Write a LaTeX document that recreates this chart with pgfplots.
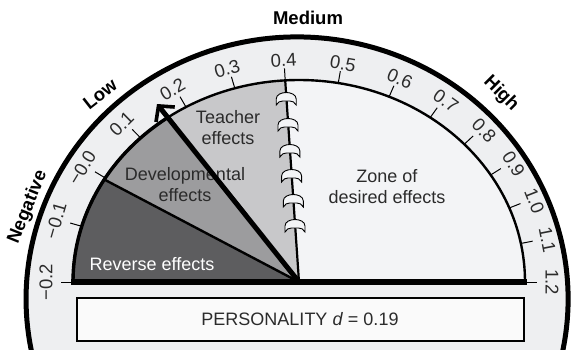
\documentclass[border=0pt]{standalone}
\usepackage{fontspec}
\setmainfont{Liberation Sans}
\usepackage{pgfplots}
\pgfplotsset{compat=1.18}
\usetikzlibrary{arrows.meta}

\definecolor{band}{HTML}{EEEFF1}
\definecolor{zone}{HTML}{F3F4F6}
\definecolor{teacher}{HTML}{C8C8CA}
\definecolor{develop}{HTML}{9C9C9E}
\definecolor{reverse}{HTML}{5D5D5F}
\definecolor{txt}{HTML}{2B2B2B}

\newcommand\ticklab{\fontsize{18.5}{20}\selectfont}
\newcommand\zonelab{\fontsize{18}{21}\selectfont}
\newcommand\biglab{\fontsize{18.5}{20}\selectfont\bfseries}

\begin{document}
\begin{tikzpicture}
\begin{axis}[name=ax, x=1pt, y=1pt,
    xmin=0, xmax=573, ymin=0, ymax=349,
    hide axis, clip=true]

% outer band of the dial
\filldraw[fill=band, draw=black, line width=5pt]
  (551.7,-39.6) arc[start angle=-20, end angle=200, x radius=271pt, y radius=262pt] -- cycle;

% zones (centre 299,67; inner radii 226 x 202)
\fill[reverse] (299,67) -- (73,67) arc[start angle=180, end angle=149.5, x radius=226pt, y radius=202pt] -- cycle;
\fill[develop] (299,67) -- (104.3,169.5) arc[start angle=149.5, end angle=125, x radius=226pt, y radius=202pt] -- cycle;
\fill[teacher] (299,67) -- (169.4,232.5) arc[start angle=125, end angle=93.5, x radius=226pt, y radius=202pt] -- cycle;
\fill[zone] (299,67) -- (285.2,268.6) arc[start angle=93.5, end angle=0, x radius=226pt, y radius=202pt] -- cycle;

% inner arc
\draw[line width=2.4pt] (73,67) arc[start angle=180, end angle=0, x radius=226pt, y radius=202pt];
\draw[line width=3.4pt] (73,67) arc[start angle=180, end angle=125, x radius=226pt, y radius=202pt];

% scale ticks and labels
\foreach \t/\l in {180/−0.2, 164/−0.1, 149/−0.0, 134.5/0.1, 120/0.2, 106.5/0.3,
    93.5/0.4, 80/0.5, 66.5/0.6, 54.5/0.7, 43/0.8, 32/0.9, 21.5/1.0, 11/1.1, 0/1.2}{%
  \edef\tmp{\noexpand\draw[line width=1pt]
      ({299+226*cos(\t)},{67+202*sin(\t)}) -- ({299+238*cos(\t)},{67+214*sin(\t)});
    \noexpand\node[rotate=\t-90, text=txt, font=\noexpand\ticklab]
      at ({299+253*cos(\t)},{67+222*sin(\t)}) {\l};}%
  \tmp}

% boundaries
\addplot[black, line width=2.4pt] coordinates {(299,67) (104.3,169.5)};
\addplot[black, line width=2.2pt] coordinates {(299,67) (285.2,268.6)};

% hooks on the 0.4 line
\foreach \hx/\hy in {286.2/251, 288.0/225, 289.9/199, 291.6/174, 293.3/149, 295.0/124}{%
  \edef\tmp{\noexpand\draw[fill=zone, line width=0.9pt]
    ({\hx-10},{\hy-7}) -- ++(0pt,6pt)
    .. controls +(0pt,4.5pt) and +(-4.5pt,0pt) .. ++(10pt,6.5pt)
    .. controls +(4.5pt,0pt) and +(0pt,4.5pt) .. ++(10pt,-6.5pt)
    -- ++(0pt,-6pt)
    .. controls +(-1pt,3pt) and +(2pt,0pt) .. ++(-6.5pt,4pt)
    -- ++(-7pt,0pt)
    .. controls +(-2pt,0pt) and +(1pt,3pt) .. ++(-6.5pt,-4pt) -- cycle;}%
  \tmp}

% baseline
\addplot[black, line width=5.5pt] coordinates {(71,67) (527,67)};

% zone texts
\node[align=center, text=txt, font=\zonelab] at (228,221) {Teacher\\effects};
\node[align=center, text=txt, font=\zonelab] at (185,164) {Developmental\\effects};
\node[text=white, font=\zonelab] at (152,85) {Reverse effects};
\node[align=center, text=txt, font=\zonelab] at (387,162) {Zone of\\desired effects};

% dial labels
\node[font=\biglab] at (308,331) {Medium};
\node[font=\biglab, rotate=38] at (100,255) {Low};
\node[font=\biglab, rotate=68] at (28,142) {Negative};
\node[font=\biglab, rotate=-45] at (501,255) {High};

% label box
\filldraw[fill=white!98!black, draw=black, line width=2.2pt] (77,8) rectangle (524,51);
\node[text=txt, font=\zonelab] at (300,29.5) {PERSONALITY \textit{d} = 0.19};

% needle, d = 0.19
\addplot[black, line width=5pt, -{Straight Barb[length=11pt, width=24pt, line width=3.6pt]}]
  coordinates {(299,67) (157,245)};

\end{axis}
\pgfresetboundingbox
\path[use as bounding box] (ax.south west) rectangle (ax.north east);
\end{tikzpicture}
\end{document}
